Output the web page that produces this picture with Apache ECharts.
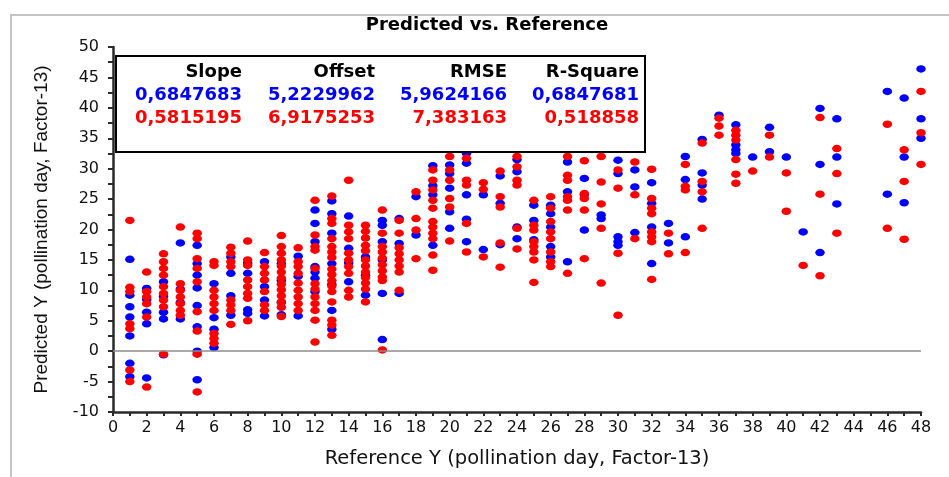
<!DOCTYPE html>
<html>
<head>
<meta charset="utf-8">
<script src="https://cdn.jsdelivr.net/npm/echarts@6/dist/echarts.min.js"></script>
<style>
  html, body { margin: 0; padding: 0; background: #fff; }
  #chart { width: 949px; height: 477px; }
</style>
</head>
<body>
<div id="chart"></div>
<script>
// Predicted pollination day for two calibration models, grouped by reference day.
// Each entry: [reference day, [predicted values]]
const model1ByDay = [
  [1, [15.1, 9.2, 7.3, 5.6, 2.5, -2.0, -4.2]],
  [2, [10.3, 8.5, 6.4, 4.5, -4.4]],
  [3, [11.4, 9.0, 6.4, 5.3, -0.6]],
  [4, [17.8, 10.2, 8.0, 5.3]],
  [5, [17.4, 14.4, 12.5, 10.4, 7.5, 4.0, 0.0, -4.7]],
  [6, [11.1, 5.5, 3.6, 0.6]],
  [7, [15.5, 12.8, 9.1, 5.9]],
  [8, [14.5, 12.8, 6.8, 6.2]],
  [9, [14.7, 10.6, 8.4, 5.8]],
  [10, [14.4, 11.6, 8.0, 6.0]],
  [11, [15.6, 12.3, 5.8]],
  [12, [23.2, 21.0, 18.0, 13.9, 13.0, 12.0, 9.8]],
  [13, [24.7, 22.6, 19.4, 14.4, 11.0, 6.7, 3.6]],
  [14, [22.2, 16.9, 14.5, 11.4]],
  [15, [15.5, 12.5, 9.2]],
  [16, [21.5, 20.7, 18.0, 15.0, 9.5, 1.9]],
  [17, [21.8, 17.7, 9.5]],
  [18, [25.4, 19.1]],
  [19, [30.5, 27.2, 25.7, 17.4]],
  [20, [30.6, 29.2, 26.8, 22.9, 20.2]],
  [21, [32.5, 30.9, 25.7, 21.7, 18.0]],
  [22, [25.7, 16.7]],
  [23, [28.8, 24.3, 17.5]],
  [24, [31.5, 29.5, 20.4, 18.5]],
  [25, [24.0, 21.5, 18.3]],
  [26, [24.0, 22.6, 20.4, 17.2, 15.5]],
  [27, [31.1, 26.2, 14.7]],
  [28, [28.4, 25.7, 19.9]],
  [29, [22.4, 21.8]],
  [30, [31.4, 29.2, 18.8, 18.0, 17.4]],
  [31, [29.8, 27.0, 19.5]],
  [32, [27.7, 24.3, 20.4, 14.4]],
  [33, [21.0, 17.8]],
  [34, [32.0, 28.2, 18.8]],
  [35, [34.8, 29.3, 27.3, 25.0]],
  [36, [38.8]],
  [37, [37.2, 33.9, 33.1, 32.5]],
  [38, [31.9]],
  [39, [36.8, 32.8]],
  [40, [31.9]],
  [41, [19.6]],
  [42, [39.9, 30.7, 16.2]],
  [43, [38.2, 31.9, 24.2]],
  [46, [42.7, 25.8]],
  [47, [41.6, 31.9, 24.4]],
  [48, [46.4, 38.2, 35.0]]
];

const model2ByDay = [
  [1, [21.5, 10.5, 9.8, 4.5, 3.7, -3.1, -5.0]],
  [2, [13.0, 9.8, 8.9, 7.8, 5.6, -5.9]],
  [3, [16.0, 14.7, 13.6, 12.5, 10.6, 9.5, 8.4, 7.3, -0.5]],
  [4, [20.4, 11.1, 10.0, 8.9, 7.8, 6.7, 5.9]],
  [5, [19.4, 18.5, 15.2, 13.6, 11.4, 6.5, 3.3, -0.5, -6.7]],
  [6, [14.7, 14.1, 10.0, 8.9, 7.8, 6.7, 2.9, 2.1, 1.3]],
  [7, [17.1, 16.1, 14.7, 13.9, 8.4, 7.6, 6.7, 4.4]],
  [8, [18.1, 15.0, 14.1, 11.7, 10.6, 9.5, 8.7, 5.0]],
  [9, [16.2, 13.9, 12.8, 11.7, 9.8, 7.6, 6.7]],
  [10, [19.0, 17.2, 16.1, 15.0, 14.0, 13.0, 12.0, 11.0, 10.1, 9.1, 8.1, 7.2, 5.7]],
  [11, [17.0, 14.7, 13.9, 12.8, 11.2, 10.0, 8.9, 7.8, 6.7]],
  [12, [24.8, 19.1, 17.2, 16.6, 13.6, 11.1, 10.2, 8.9, 7.8, 6.7, 5.1, 1.5]],
  [13, [25.5, 21.8, 21.0, 18.5, 17.2, 16.3, 15.4, 13.5, 12.6, 11.6, 10.7, 9.8, 8.1, 5.1, 4.3, 2.6]],
  [14, [28.1, 20.7, 19.6, 18.5, 16.1, 15.0, 13.9, 12.8, 10.0, 8.9]],
  [15, [20.7, 19.7, 18.6, 17.4, 16.5, 15.0, 14.0, 13.0, 12.1, 11.2, 10.2, 8.1]],
  [16, [23.2, 19.4, 17.2, 16.3, 15.3, 14.2, 13.2, 12.2, 11.6, 0.2]],
  [17, [21.5, 19.4, 17.0, 16.0, 15.0, 14.0, 13.0, 10.0]],
  [18, [26.2, 21.8, 19.9, 15.2]],
  [19, [29.8, 28.1, 26.5, 24.8, 23.5, 21.3, 20.4, 19.4, 18.5, 15.8, 13.3]],
  [20, [32.0, 29.8, 28.1, 25.1, 23.7, 18.1]],
  [21, [31.7, 28.1, 27.3, 21.0, 16.3]],
  [22, [27.7, 26.6, 15.5]],
  [23, [29.6, 25.4, 23.7, 17.8, 13.8]],
  [24, [32.0, 30.3, 28.1, 27.3, 20.2, 16.8]],
  [25, [24.8, 20.7, 19.9, 18.0, 17.2, 16.3, 15.0, 11.3]],
  [26, [25.4, 23.5, 21.3, 19.6, 18.5, 16.3, 14.7, 13.9]],
  [27, [32.0, 28.9, 28.1, 25.4, 24.8, 23.2, 12.8]],
  [28, [31.3, 25.9, 25.1, 23.2, 15.2]],
  [29, [32.0, 27.8, 24.2, 20.2, 11.2]],
  [30, [29.8, 26.8, 16.1, 5.9]],
  [31, [31.1, 25.7, 18.5]],
  [32, [29.9, 25.1, 23.5, 22.6, 19.6, 18.8, 18.0, 11.8]],
  [33, [19.4, 16.0]],
  [34, [30.7, 27.1, 26.5, 16.2]],
  [35, [34.2, 27.9, 26.2, 20.2]],
  [36, [38.3, 37.0, 35.5]],
  [37, [36.3, 35.5, 34.7, 31.5, 29.1, 27.6]],
  [38, [29.6]],
  [39, [35.5, 31.9]],
  [40, [29.3, 23.0]],
  [41, [14.1]],
  [42, [38.4, 25.8, 12.4]],
  [43, [33.3, 29.2, 19.4]],
  [46, [37.3, 20.2]],
  [47, [33.1, 27.9, 18.4]],
  [48, [42.7, 35.9, 30.7]]
];

// Regression statistics shown in the summary table
const statHeaders = ['Slope', 'Offset', 'RMSE', 'R-Square'];
const model1Stats = ['0,6847683', '5,2229962', '5,9624166', '0,6847681'];
const model2Stats = ['0,5815195', '6,9175253', '7,383163', '0,518858'];

// Axis ranges
const yMin = -10, yMax = 50, yStep = 5;
const xMin = 0, xMax = 48, xStep = 2;

const chartTitle = 'Predicted vs. Reference';
const xTitle = 'Reference Y (pollination day, Factor-13)';
const yTitle = 'Predicted Y (pollination day, Factor-13)';

function flatten(groups) {
  const out = [];
  groups.forEach(([day, vals]) => vals.forEach(v => out.push([day, v])));
  return out;
}

const BLUE = '#0000ff';
const RED = '#ff0000';
const AXIS = '#2a2a2a';
const tickFont = { fontFamily: 'DejaVu Sans', fontSize: 16, color: '#111' };

const chart = echarts.init(document.getElementById('chart'), null, { renderer: 'canvas' });

// Table layout inside the stats box
const colRight = [242, 375, 507, 639];
const rowY = [72, 95, 118];
const tableText = [];
[statHeaders, model1Stats, model2Stats].forEach((row, r) => {
  row.forEach((t, c) => {
    tableText.push({
      type: 'text', z: 101,
      x: colRight[c], y: rowY[r],
      style: {
        text: t, textAlign: 'right', textVerticalAlign: 'middle',
        font: 'bold 18px "DejaVu Sans"',
        fill: r === 0 ? '#000' : (r === 1 ? BLUE : RED)
      }
    });
  });
});

chart.setOption({
  animation: false,
  backgroundColor: '#fff',
  grid: { left: 113, right: 28, top: 47, bottom: 65, containLabel: false },
  xAxis: {
    type: 'value', min: xMin, max: xMax, interval: xStep,
    name: xTitle, nameLocation: 'middle', nameGap: 37,
    nameTextStyle: { fontFamily: 'DejaVu Sans', fontSize: 19.5, color: '#111' },
    axisLine: { show: true, onZero: false, lineStyle: { color: AXIS, width: 2.5 } },
    axisTick: { show: true, length: 4, lineStyle: { color: AXIS, width: 2 } },
    minorTick: { show: true, splitNumber: 2, length: 4, lineStyle: { color: AXIS, width: 2 } },
    axisLabel: Object.assign({ margin: 8 }, tickFont),
    splitLine: { show: false }
  },
  yAxis: {
    type: 'value', min: yMin, max: yMax, interval: yStep,
    name: yTitle, nameLocation: 'middle', nameGap: 62, nameRotate: 90,
    nameTextStyle: { fontFamily: 'Liberation Sans', fontSize: 19, color: '#111' },
    axisLine: { show: true, onZero: false, lineStyle: { color: AXIS, width: 2.5 } },
    axisTick: { show: true, length: 5, lineStyle: { color: AXIS, width: 2 } },
    minorTick: { show: true, splitNumber: 2, length: 5, lineStyle: { color: AXIS, width: 2 } },
    axisLabel: Object.assign({ margin: 14 }, tickFont),
    splitLine: { show: false }
  },
  series: [
    {
      name: 'Model 1', type: 'scatter', z: 2,
      symbol: 'circle', symbolSize: [9.5, 7.5],
      itemStyle: { color: BLUE, opacity: 1 },
      data: flatten(model1ByDay),
      markLine: {
        silent: true, symbol: ['none', 'none'], label: { show: false },
        lineStyle: { color: '#8c8c8c', width: 1.5, type: 'solid' },
        data: [{ yAxis: 0 }]
      }
    },
    {
      name: 'Model 2', type: 'scatter', z: 3,
      symbol: 'circle', symbolSize: [9.5, 7.5],
      itemStyle: { color: RED, opacity: 1 },
      data: flatten(model2ByDay)
    }
  ],
  graphic: [
    {
      type: 'rect', z: 0, silent: true,
      shape: { x: 11, y: 15, width: 960, height: 500 },
      style: { fill: 'none', stroke: '#c4c4c4', lineWidth: 2 }
    },
    {
      type: 'text', z: 101, x: 487, y: 25,
      style: {
        text: chartTitle, textAlign: 'center', textVerticalAlign: 'middle',
        font: 'bold 18px "DejaVu Sans"', fill: '#000'
      }
    },
    {
      type: 'rect', z: 100, silent: true,
      shape: { x: 116, y: 56, width: 529, height: 96 },
      style: { fill: '#fff', stroke: '#000', lineWidth: 2 }
    }
  ].concat(tableText)
});
</script>
</body>
</html>
